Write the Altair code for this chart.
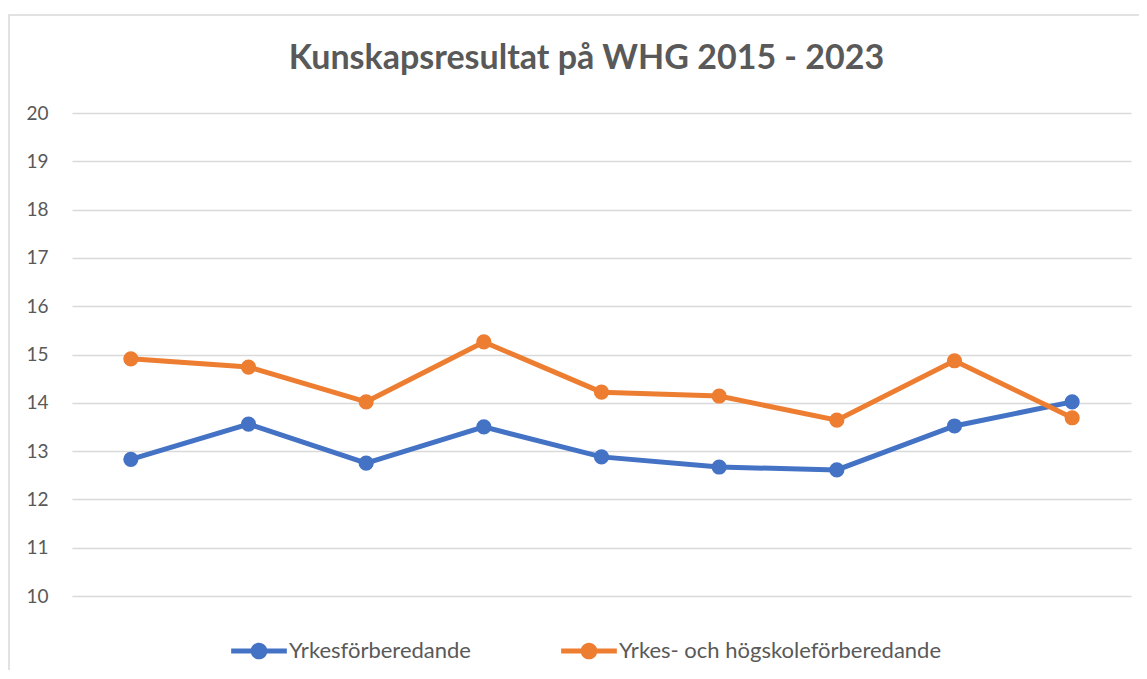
import altair as alt
import pandas as pd

years = ["2015", "2016", "2017", "2018", "2019", "2020", "2021", "2022", "2023"]
yrkes = [12.83, 13.56, 12.75, 13.50, 12.88, 12.67, 12.61, 13.52, 14.02]
hogsk = [14.91, 14.74, 14.02, 15.26, 14.22, 14.14, 13.64, 14.87, 13.69]
series_names = ["Yrkesförberedande", "Yrkes- och högskoleförberedande"]
colors = ["#4472C4", "#ED7D31"]

rows = []
for name, vals in zip(series_names, [yrkes, hogsk]):
    for i, (yr, v) in enumerate(zip(years, vals)):
        rows.append({"År": yr, "Serie": name, "Värde": v, "order": i})
df = pd.DataFrame(rows)

FONT = "Lato"
GRAY = "#595959"

x = alt.X("År:N", sort=years, axis=None, scale=alt.Scale(paddingOuter=0.5, paddingInner=1))
y = alt.Y("Värde:Q", scale=alt.Scale(domain=[10, 20], nice=False, zero=False),
          axis=alt.Axis(values=list(range(10, 21)), title=None, domain=False, ticks=False,
                        grid=True, gridColor="#D9D9D9", gridWidth=1.3,
                        labelFont=FONT, labelFontSize=19, labelColor=GRAY, labelPadding=24))
color = alt.Color("Serie:N", scale=alt.Scale(domain=series_names, range=colors),
                  sort=series_names,
                  legend=alt.Legend(orient="none", legendX=159, legendY=510,
                                    direction="horizontal", title=None,
                                    labelFont=FONT, labelFontSize=22, labelColor=GRAY,
                                    labelLimit=500,
                                    symbolType="M-1,-0.09H1V0.09H-1Z M-0.3,0A0.3,0.3 0 1,1 0.3,0A0.3,0.3 0 1,1 -0.3,0Z",
                                    symbolSize=3100, symbolStrokeWidth=0, labelOffset=2,
                                    columnPadding=90, symbolOpacity=1))

frame = alt.Chart(pd.DataFrame({"f": [0]})).mark_rect(
    fill="transparent", stroke="#D9D9D9", strokeWidth=1.5
).encode(x=alt.value(-63), x2=alt.value(1090), y=alt.value(-98), y2=alt.value(580))

base = alt.Chart(df)
lines = base.mark_line(strokeWidth=5).encode(x=x, y=y, color=color, order="order:Q")
points = base.mark_circle(size=230, opacity=1).encode(x=x, y=y, color=color)

chart = alt.layer(frame, lines, points).properties(
    width=1059, height=483,
    background="white",
    title=alt.Title("Kunskapsresultat på WHG 2015 - 2023", font=FONT, fontSize=34,
                    fontWeight="bold", color=GRAY, offset=-62, anchor="middle",
                    frame="group", dx=-15),
    autosize=alt.AutoSizeParams(type="none"),
    padding={"left": 64, "top": 105, "right": 8, "bottom": 74},
).configure_view(strokeWidth=0, stroke=None)

chart.save("out.html", embed_options={"renderer": "svg", "actions": False})
